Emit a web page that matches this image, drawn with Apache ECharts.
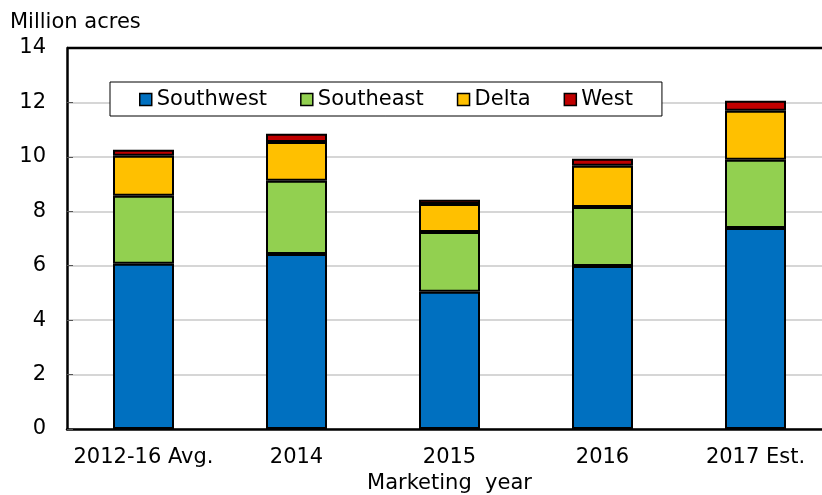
<!DOCTYPE html>
<html>
<head>
<meta charset="utf-8">
<script src="https://cdn.jsdelivr.net/npm/echarts@6/dist/echarts.min.js"></script>
<style>
  html, body { margin: 0; padding: 0; background: #fff; }
  #chart { width: 822px; height: 495px; }
</style>
</head>
<body>
<div id="chart"></div>
<script>
// categories and stacked values (million acres)
var years = ["2012-16 Avg.", "2014", "2015", "2016", "2017 Est."];
var southwest = [6.07, 6.43, 5.04, 5.99, 7.39];
var southeast = [2.50, 2.69, 2.20, 2.17, 2.50];
var delta = [1.47, 1.43, 1.03, 1.51, 1.80];
var west = [0.22, 0.30, 0.15, 0.26, 0.37];

var font = "'DejaVu Sans', Arial, sans-serif";
var fs = 21;

function barSeries(name, data, color) {
  return {
    name: name,
    type: "bar",
    stack: "total",
    data: data,
    barWidth: 61,
    itemStyle: { color: color, borderColor: "#000", borderWidth: 2 },
  };
}

var chart = echarts.init(document.getElementById("chart"));
var option = {
  animation: false,
  textStyle: { fontFamily: font },
  title: {
    text: "Million acres",
    left: 5,
    top: 7,
    textStyle: { fontFamily: font, fontSize: fs, fontWeight: "normal", color: "#000" },
  },
  legend: {
    left: 110,
    top: 82,
    padding: [7, 29, 6, 29],
    itemGap: 33,
    itemWidth: 12,
    itemHeight: 12,
    borderColor: "#000",
    borderWidth: 1,
    backgroundColor: "#fff",
    icon: "rect",
    textStyle: { fontFamily: font, fontSize: fs, color: "#000" },
    itemStyle: { borderColor: "#000", borderWidth: 1.5 },
    data: ["Southwest", "Southeast", "Delta", "West"],
  },
  grid: { left: 67, right: -10, top: 48, bottom: 66, outerBoundsMode: "none" },
  xAxis: [
    {
      type: "category",
      data: years,
      name: "Marketing  year",
      nameLocation: "middle",
      nameGap: 44,
      nameTextStyle: { fontFamily: font, fontSize: fs, color: "#000" },
      axisLine: { lineStyle: { color: "#000", width: 2.5 } },
      axisTick: { inside: true, length: 6, lineStyle: { color: "#555" } },
      axisLabel: { fontFamily: font, fontSize: fs, color: "#000", margin: 18, interval: 0 },
    },
    {
      // second set of ticks at the category centres
      type: "category",
      data: years,
      position: "bottom",
      axisLine: { show: false },
      axisTick: { inside: true, length: 6, alignWithLabel: true, lineStyle: { color: "#555" } },
      axisLabel: { show: false },
    },
  ],
  yAxis: {
    type: "value",
    min: 0,
    max: 14,
    interval: 2,
    axisLine: { show: true, lineStyle: { color: "#000", width: 2.5 } },
    axisTick: { show: true, inside: true, length: 6, lineStyle: { color: "#555" } },
    axisLabel: { fontFamily: font, fontSize: fs, color: "#000", margin: 21 },
    splitLine: { lineStyle: { color: "#c8c8c8", width: 1.5 } },
  },
  series: [
    barSeries("Southwest", southwest, "#0070c0"),
    barSeries("Southeast", southeast, "#92d050"),
    barSeries("Delta", delta, "#ffc000"),
    barSeries("West", west, "#c00000"),
  ],
  graphic: [
    {
      type: "line",
      shape: { x1: 67, y1: 48, x2: 822, y2: 48 },
      style: { stroke: "#000", lineWidth: 2.5 },
      z: 10,
    },
  ],
};
chart.setOption(option);
</script>
</body>
</html>
